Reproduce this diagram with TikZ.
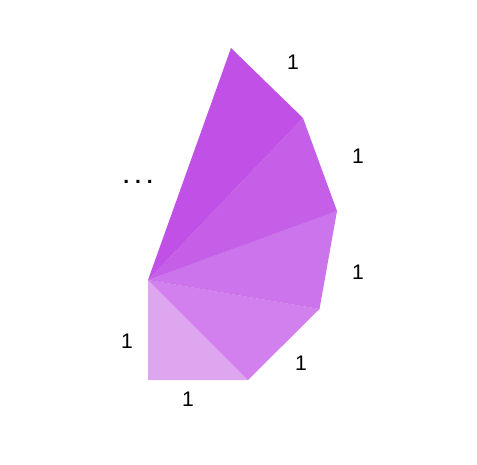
\documentclass[tikz,border=0pt]{standalone}
\usepackage{fontspec}
\setmainfont{Liberation Sans}
\usepackage{xcolor}
\definecolor{tri1}{RGB}{221,166,239}
\definecolor{tri2}{RGB}{209,128,237}
\definecolor{tri3}{RGB}{203,116,236}
\definecolor{tri4}{RGB}{197,95,232}
\definecolor{tri5}{RGB}{192,80,230}

\begin{document}
\begin{tikzpicture}[x=0.02cm,y=-0.02cm,
    lab/.style={font=\fontsize{12}{14}\selectfont, inner sep=0pt}]
    \useasboundingbox (0,0) rectangle (477,464);

    % vertices of the spiral
    \coordinate (o)  at (148,280);
    \coordinate (p1) at (148,380);
    \coordinate (p2) at (248,380);
    \coordinate (p3) at (319.5,309);
    \coordinate (p4) at (337,211);
    \coordinate (p5) at (303,118);
    \coordinate (p6) at (231,48);

    \fill[tri1] (o) -- (p1) -- (p2) -- cycle;
    \fill[tri2] (o) -- (p2) -- (p3) -- cycle;
    \fill[tri3] (o) -- (p3) -- (p4) -- cycle;
    \fill[tri4] (o) -- (p4) -- (p5) -- cycle;
    \fill[tri5] (o) -- (p5) -- (p6) -- cycle;
    \draw[tri4!90!black, very thin, opacity=0.3] (o) -- (p4);
    \draw[tri3!90!black, very thin, opacity=0.3] (o) -- (p3);

    \node[lab] (l1) at (127,341) {1};
    \node[lab] (l2) at (188,399) {1};
    \node[lab] (l3) at (301,363) {1};
    \node[lab] (l4) at (358,272) {1};
    \node[lab] (l5) at (358,156) {1};
    \node[lab] (l6) at (293,62) {1};
    \node[lab] (dots) at (138,182) {\textbf{.}\hspace{0.28em}\textbf{.}\hspace{0.28em}\textbf{.}};
\end{tikzpicture}
\end{document}
